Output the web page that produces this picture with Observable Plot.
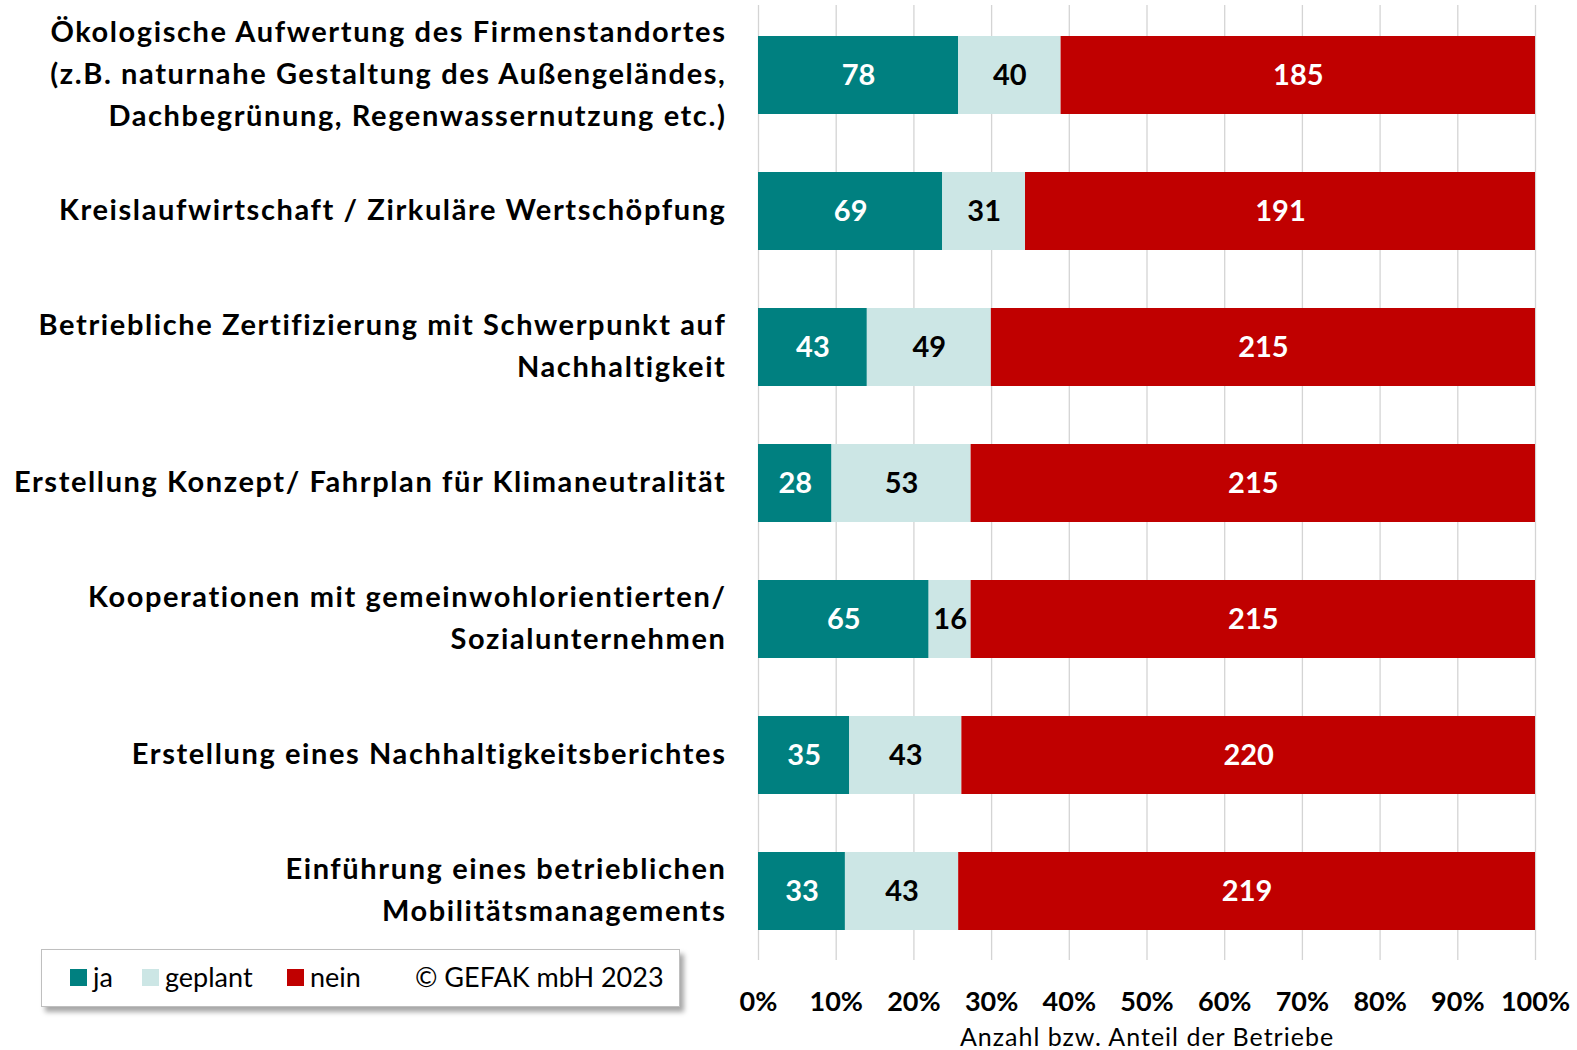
<!DOCTYPE html>
<html><head><meta charset="utf-8">
<script src="https://cdn.jsdelivr.net/npm/d3@7"></script>
<script src="https://cdn.jsdelivr.net/npm/@observablehq/plot@0.6"></script>
<style>
body{margin:0;background:#fff;font-family:Lato,"Open Sans",sans-serif;}
#wrap{position:relative;width:1577px;height:1050px;overflow:hidden;}
#legend{position:absolute;left:41px;top:949px;width:637px;height:56px;border:1px solid #bfbfbf;background:#fff;box-shadow:4px 5px 5px rgba(0,0,0,0.35);font-family:Lato,sans-serif;font-size:27px;color:#000;}
#legend span.sw{position:absolute;top:19px;width:17px;height:17px;}
#legend span.t{position:absolute;top:10px;line-height:34px;}
text.ylab{letter-spacing:1.6px;}
text.xtit{letter-spacing:1px;}
</style></head><body>
<div id="wrap"><div id="chart"></div>
<div id="legend">
<span class="sw" style="left:28px;background:#008080"></span><span class="t" style="left:51px">ja</span>
<span class="sw" style="left:100px;background:#cce6e5"></span><span class="t" style="left:123px">geplant</span>
<span class="sw" style="left:245px;background:#c00000"></span><span class="t" style="left:268px">nein</span>
<span class="t" style="left:373px">© GEFAK mbH 2023</span>
</div></div>
<script>
const categories = [
  "Ökologische Aufwertung des Firmenstandortes\n(z.B. naturnahe Gestaltung des Außengeländes,\nDachbegrünung, Regenwassernutzung etc.)",
  "Kreislaufwirtschaft / Zirkuläre Wertschöpfung",
  "Betriebliche Zertifizierung mit Schwerpunkt auf\nNachhaltigkeit",
  "Erstellung Konzept/ Fahrplan für Klimaneutralität",
  "Kooperationen mit gemeinwohlorientierten/\nSozialunternehmen",
  "Erstellung eines Nachhaltigkeitsberichtes",
  "Einführung eines betrieblichen\nMobilitätsmanagements"
];
const series = ["ja", "geplant", "nein"];
const ja = [78, 69, 43, 28, 65, 35, 33];
const geplant = [40, 31, 49, 53, 16, 43, 43];
const nein = [185, 191, 215, 215, 215, 220, 219];
const xTicks = [0, 0.1, 0.2, 0.3, 0.4, 0.5, 0.6, 0.7, 0.8, 0.9, 1];
const xTitle = "Anzahl bzw. Anteil der Betriebe";

const barColors = {ja: "#008080", geplant: "#cce6e5", nein: "#c00000"};
const textColors = {ja: "#ffffff", geplant: "#000000", nein: "#ffffff"};
const valuesBySeries = {ja, geplant, nein};
const data = [];
categories.forEach((c, i) => series.forEach(s => data.push({cat: c, series: s, value: valuesBySeries[s][i]})));

const font = "Lato, 'Open Sans', sans-serif";
const chart = Plot.plot({
  width: 1577,
  height: 1050,
  marginLeft: 758,
  marginRight: 42,
  marginTop: 5,
  marginBottom: 90,
  style: {fontFamily: font, background: "#fff"},
  x: {domain: [0, 1], axis: null},
  y: {domain: categories, paddingInner: 0.43, paddingOuter: 0.215, axis: null},
  color: {type: "identity"},
  marks: [
    Plot.ruleX(xTicks, {stroke: "#d4d4d4", strokeWidth: 1.3}),
    Plot.barX(data, Plot.stackX({x: "value", y: "cat", z: "series", offset: "normalize", fill: d => barColors[d.series]})),
    Plot.text(data, Plot.stackX({x: "value", y: "cat", z: "series", offset: "normalize", text: d => String(d.value), fill: d => textColors[d.series], fontSize: 29, fontWeight: "bold"})),
    Plot.text(categories, {y: d => d, text: d => d, frameAnchor: "left", dx: -32, dy: -5, textAnchor: "end", fontSize: 29, fontWeight: "bold", lineHeight: 1.45, fill: "#000"}),
    Plot.text(xTicks, {x: d => d, text: d => Math.round(d * 100) + "%", frameAnchor: "bottom", dy: 50, fontSize: 27, fontWeight: "bold", fill: "#000"}),
    Plot.text([xTitle], {text: d => d, frameAnchor: "bottom", dy: 85, fontSize: 25, fill: "#000"})
  ]
});
const catTexts = new Set(categories.flatMap(c => [c, ...c.split("\n")]));
d3.select(chart).selectAll("text").each(function() {
  const t = this.textContent;
  const lines = Array.from(this.querySelectorAll("tspan")).map(s => s.textContent);
  if (catTexts.has(t) || (lines.length && lines.every(l => catTexts.has(l)))) {
    this.setAttribute("class", "ylab");
    this.style.letterSpacing = "1.6px";
  }
  if (t === xTitle) {
    this.setAttribute("class", "xtit");
    this.style.letterSpacing = "1px";
  }
});
document.getElementById("chart").appendChild(chart);
</script>
</body></html>
